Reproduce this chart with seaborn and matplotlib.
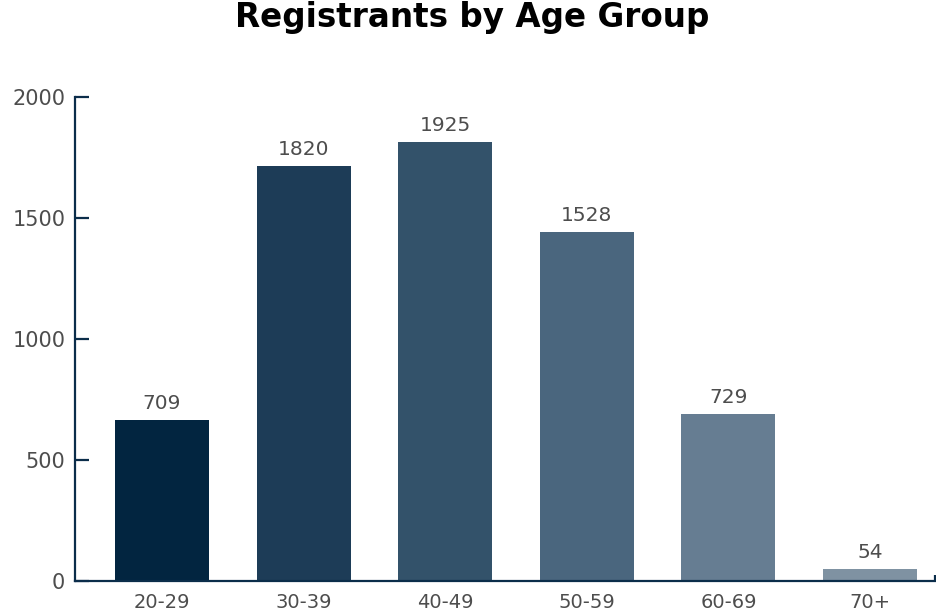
import matplotlib
matplotlib.use("Agg")
import matplotlib.pyplot as plt
import seaborn as sns
import pandas as pd

categories = ["20-29", "30-39", "40-49", "50-59", "60-69", "70+"]
bar_heights = [665, 1715, 1814, 1442, 690, 50]
value_labels = ["709", "1820", "1925", "1528", "729", "54"]
colors = ["#022540", "#1d3c57", "#33526a", "#4a667e", "#667d92", "#7f92a2"]
y_ticks = [0, 500, 1000, 1500, 2000]

sns.set_style("white")
plt.rcParams["font.family"] = ["DejaVu Sans"]

fig = plt.figure(figsize=(9.37, 6.12), dpi=100)
ax = fig.add_axes([75 / 937, 31 / 612, 860 / 937, 484 / 612])

df = pd.DataFrame({"cat": categories, "val": bar_heights})
sns.barplot(data=df, x="cat", y="val", hue="cat", palette=colors,
            legend=False, width=0.664, ax=ax, saturation=1, linewidth=0)

ax.set_xlim(-0.614, 5.459)
ax.set_ylim(0, 2000)
ax.set_yticks(y_ticks)
ax.set_yticklabels([str(t) for t in y_ticks])
ax.set_xlabel("")
ax.set_ylabel("")

spine_color = "#0b2d4a"
text_color = "#4d4d4d"
for s in ["top", "right"]:
    ax.spines[s].set_visible(False)
for s in ["left", "bottom"]:
    ax.spines[s].set_color(spine_color)
    ax.spines[s].set_linewidth(1.6)

ax.tick_params(axis="y", left=True, direction="in", length=10, width=1.6, color=spine_color,
               labelsize=15, labelcolor=text_color, pad=7)
ax.tick_params(axis="x", bottom=False, length=0, labelsize=14, labelcolor=text_color, pad=9)

# right-end outer tick on the bottom axis
ax.plot([1, 1], [0, 0.012], transform=ax.transAxes, color=spine_color,
        lw=1.6, clip_on=False, solid_capstyle="butt")

for i, (h, lab) in enumerate(zip(bar_heights, value_labels)):
    ax.annotate(lab, (i, h), xytext=(0, 5), textcoords="offset points",
                ha="center", va="bottom", fontsize=14.5, color=text_color)

fig.text(472 / 937, 1 - 17 / 612, "Registrants by Age Group", ha="center", va="center",
         fontsize=23.5, fontweight="bold", color="#000000")

fig.savefig("out.png", dpi=100)
